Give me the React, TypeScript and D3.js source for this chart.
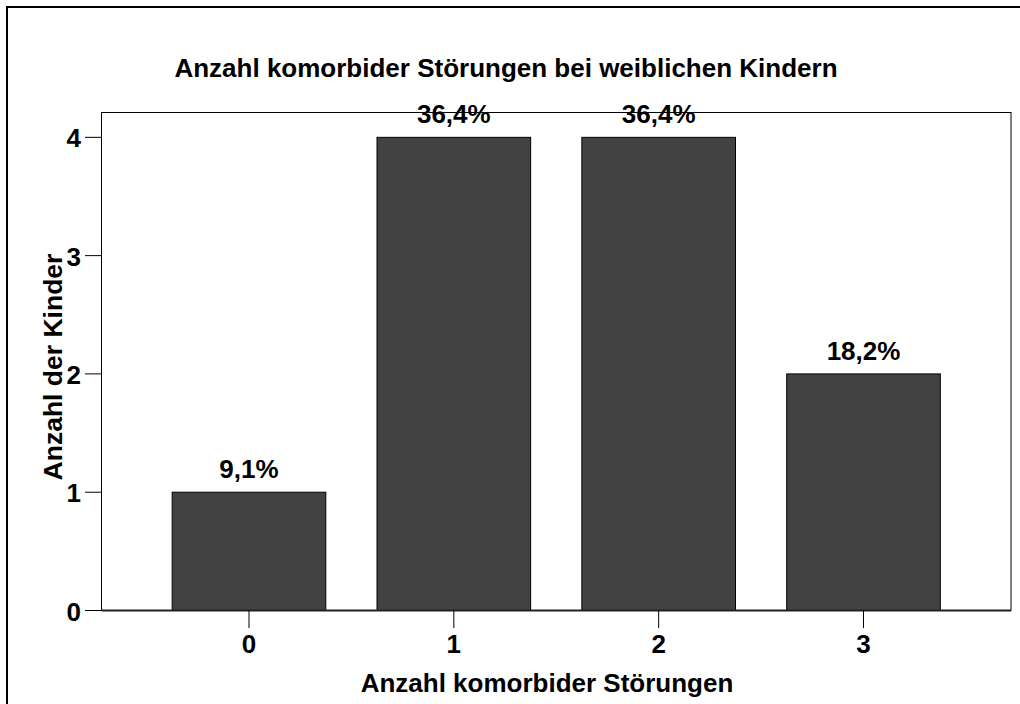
import React from 'react';
import * as d3 from 'd3';

const categories = ['0', '1', '2', '3'];
const counts = [1, 4, 4, 2];
const percentLabels = ['9,1%', '36,4%', '36,4%', '18,2%'];
const yTicks = [0, 1, 2, 3, 4];

const title = 'Anzahl komorbider Störungen bei weiblichen Kindern';
const xTitle = 'Anzahl komorbider Störungen';
const yTitle = 'Anzahl der Kinder';

const W = 1020;
const H = 704;
const plot = { left: 101.5, top: 112.5, right: 1011, bottom: 610.5 };
const font = '"Liberation Sans", Arial, Helvetica, sans-serif';
const fs = 26;

const App: React.FC = () => {
  const x = d3.scaleBand<string>()
    .domain(categories)
    .range([plot.left, plot.right])
    .paddingInner(0.25)
    .paddingOuter(0.345);

  const y = d3.scaleLinear()
    .domain([0, 4.21])
    .range([plot.bottom, plot.top]);

  const cx = (c: string) => (x(c) ?? 0) + x.bandwidth() / 2;

  return (
    <svg width={W} height={H} style={{ position: 'absolute', left: 0, top: 0, background: '#fff' }}>
      {/* outer border */}
      <rect x={7} y={7} width={W + 20} height={H + 20} fill="none" stroke="#000" strokeWidth={2} />

      <text x={506} y={77} textAnchor="middle" fontFamily={font} fontWeight="bold" fontSize={fs}>
        {title}
      </text>

      {/* plot frame */}
      <rect x={plot.left} y={plot.top} width={plot.right - plot.left} height={plot.bottom - plot.top}
        fill="#fff" stroke="#000" strokeWidth={1} />

      {counts.map((v, i) => (
        <rect key={categories[i]}
          x={x(categories[i])}
          y={y(v)}
          width={x.bandwidth()}
          height={y(0) - y(v)}
          fill="#424242" stroke="#000" strokeWidth={1} />
      ))}

      <line x1={plot.left} x2={plot.right} y1={y(0)} y2={y(0)} stroke="#222" strokeWidth={2} />

      {counts.map((v, i) => (
        <text key={'l' + i} x={cx(categories[i])} y={y(v) - 14} textAnchor="middle"
          fontFamily={font} fontWeight="bold" fontSize={fs}>
          {percentLabels[i]}
        </text>
      ))}

      {/* y axis ticks */}
      {yTicks.map(t => (
        <g key={'y' + t}>
          <line x1={85} x2={plot.left} y1={y(t)} y2={y(t)} stroke="#000" strokeWidth={1} />
          <text x={81} y={y(t) + 10} textAnchor="end" fontFamily={font} fontWeight="bold" fontSize={fs}>
            {t}
          </text>
        </g>
      ))}

      {/* x axis ticks */}
      {categories.map(c => (
        <g key={'x' + c}>
          <line x1={cx(c)} x2={cx(c)} y1={plot.bottom} y2={628} stroke="#000" strokeWidth={1} />
          <text x={cx(c)} y={653} textAnchor="middle" fontFamily={font} fontWeight="bold" fontSize={fs}>
            {c}
          </text>
        </g>
      ))}

      <text x={547} y={692} textAnchor="middle" fontFamily={font} fontWeight="bold" fontSize={fs}>
        {xTitle}
      </text>

      <text transform={`translate(62,367) rotate(-90)`} textAnchor="middle"
        fontFamily={font} fontWeight="bold" fontSize={26.5}>
        {yTitle}
      </text>
    </svg>
  );
};

export default App;
